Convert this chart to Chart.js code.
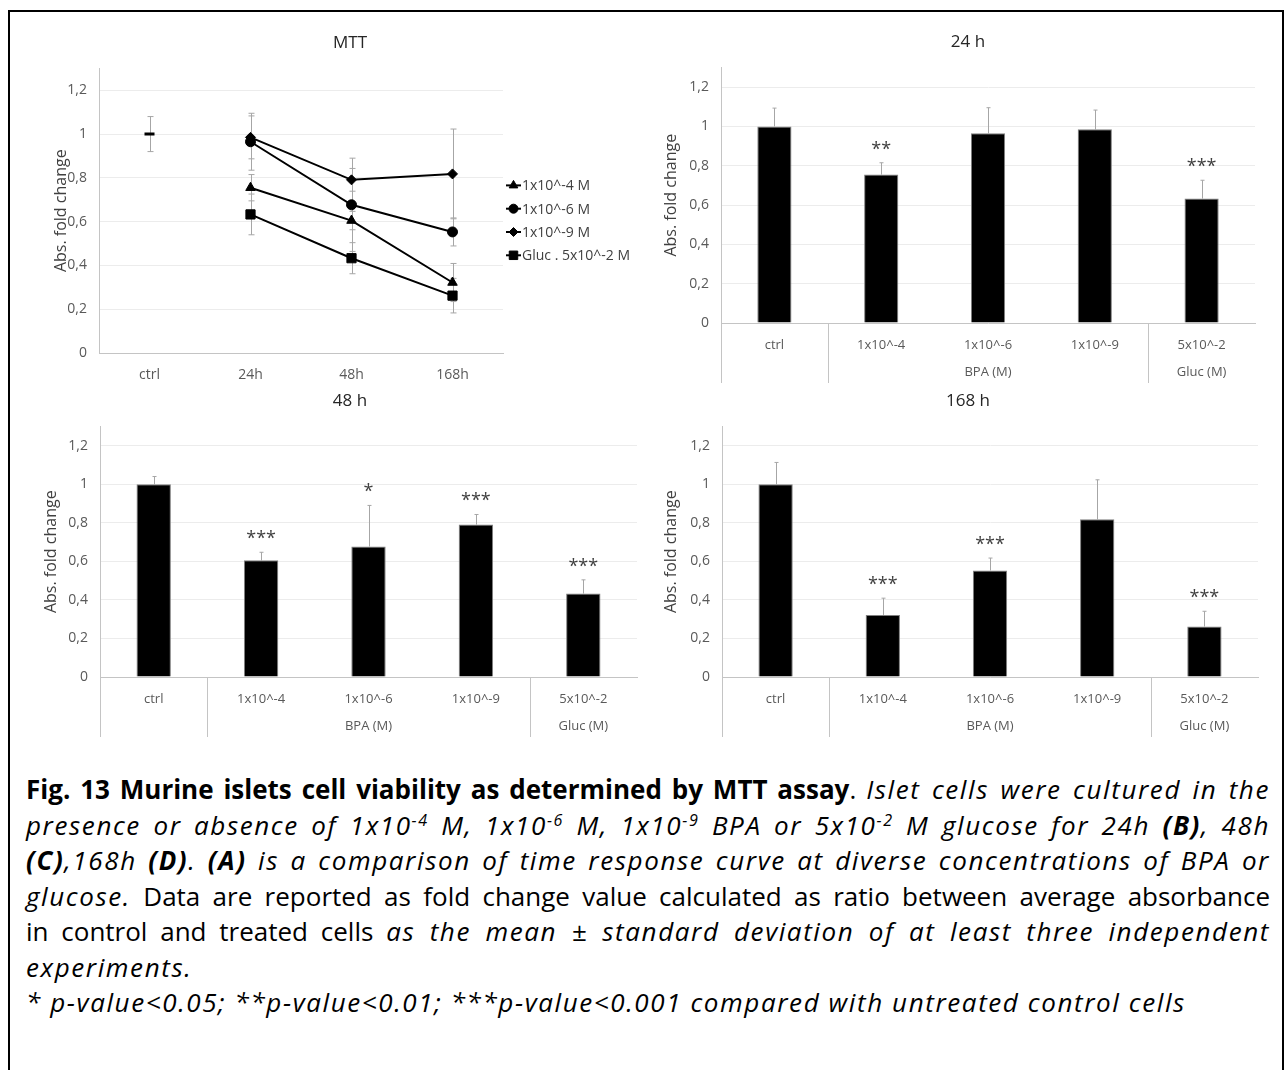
<!DOCTYPE html>
<html>
<head>
<meta charset="utf-8">
<script src="https://cdn.jsdelivr.net/npm/chart.js@4.4.1/dist/chart.umd.min.js"></script>
<style>
  body { margin: 0; width: 1285px; height: 1070px; overflow: hidden; background: #fff; position: relative; font-family: "Open Sans", sans-serif; }
  #frame { position: absolute; left: 8px; top: 10px; width: 1276px; height: 1100px; border: 2px solid #000; box-sizing: border-box; }
  canvas { position: absolute; }
  #caption { position: absolute; left: 26px; top: 772px; width: 1260px; font-size: 26px; line-height: 35.5px; color: #000; }
  #caption > div { white-space: nowrap; }
  #caption i { letter-spacing: 1.6px; }
  sup { font-size: 0.62em; line-height: 0; vertical-align: 0.55em; }
</style>
</head>
<body>
<div id="frame"></div>
<canvas id="chartA" width="640" height="370" style="left:30px;top:26px"></canvas>
<canvas id="chartB" width="626" height="370" style="left:655px;top:26px"></canvas>
<canvas id="chartC" width="640" height="365" style="left:30px;top:385px"></canvas>
<canvas id="chartD" width="626" height="365" style="left:655px;top:385px"></canvas>

<div id="caption">
  <div data-w="1244"><b>Fig. 13 Murine islets cell viability as determined by MTT assay</b>. <i>Islet cells were cultured in the</i></div>
  <div data-w="1244"><i>presence or absence of 1x10<sup>-4</sup> M, 1x10<sup>-6</sup> M, 1x10<sup>-9</sup> BPA or 5x10<sup>-2</sup> M glucose for 24h <b>(B)</b>, 48h</i></div>
  <div data-w="1244"><i><b>(C)</b>,168h <b>(D)</b>. <b>(A)</b> is a comparison of time response curve at diverse concentrations of BPA or</i></div>
  <div data-w="1244"><i>glucose.</i> Data are reported as fold change value calculated as ratio between average absorbance</div>
  <div data-w="1244">in control and treated cells <i>as the mean ± standard deviation of at least three independent</i></div>
  <div><i>experiments.</i></div>
  <div><i>* p-value&lt;0.05; **p-value&lt;0.01; ***p-value&lt;0.001 compared with untreated control cells</i></div>
</div>

<script>
// ==================== DATA ====================
const timeLabels = ['ctrl', '24h', '48h', '168h'];
const concLabels = ['ctrl', '1x10^-4', '1x10^-6', '1x10^-9', '5x10^-2'];
const groupNames = ['', 'BPA (M)', 'Gluc (M)'];
const groupFirst = [0, 1, 4];
const groupLast = [0, 3, 4];
const yTicks = [0, 0.2, 0.4, 0.6, 0.8, 1, 1.2];

const seriesNames = ['1x10^-4 M', '1x10^-6 M', '1x10^-9 M', 'Gluc . 5x10^-2 M'];

const mean24 = [1.0, 0.755, 0.965, 0.985, 0.633];
const sd24 = [0.093, 0.06, 0.13, 0.098, 0.093];
const stars24 = ['', '**', '', '', '***'];

const mean48 = [1.0, 0.605, 0.677, 0.791, 0.433];
const sd48 = [0.04, 0.042, 0.213, 0.052, 0.071];
const stars48 = ['', '***', '*', '***', '***'];

const mean168 = [1.0, 0.322, 0.553, 0.818, 0.262];
const sd168 = [0.113, 0.087, 0.064, 0.205, 0.079];
const stars168 = ['', '***', '***', '', '***'];

// ctrl point of the time-course panel
const ctrlMean = 1.0;
const ctrlSd = 0.08;

// ==================== STYLE ====================
const FONT = '"Open Sans", sans-serif';
const TICK_COLOR = '#595959';
const TITLE_COLOR = '#404040';
const GRID_COLOR = '#ececec';
const AXIS_COLOR = '#c4c4c4';
const ERR_COLOR = '#a6a6a6';
const MARKERS = ['triangle', 'circle', 'rectRot', 'rect'];
const MARKER_RADIUS = [5.5, 5, 5, 6.5];

Chart.defaults.font.family = FONT;
Chart.defaults.animation = false;

// ==================== PLUGINS ====================
const errorBars = {
    id: 'errorBars',
    beforeDatasetsDraw(chart) {
        const { ctx } = chart;
        const y = chart.scales.y;
        ctx.save();
        ctx.strokeStyle = ERR_COLOR;
        ctx.lineWidth = 1;
        chart.data.datasets.forEach((ds, i) => {
            if (!ds.errors) return;
            chart.getDatasetMeta(i).data.forEach((el, j) => {
                const v = ds.data[j], e = ds.errors[j];
                if (v == null || e == null) return;
                const both = ds.errMode === 'both';
                const x = Math.round(el.x) + 0.5;
                const top = y.getPixelForValue(v + e);
                const bot = y.getPixelForValue(both ? v - e : v);
                const cap = both ? 3 : 2;
                ctx.beginPath();
                ctx.moveTo(x, top); ctx.lineTo(x, bot);
                ctx.moveTo(x - cap, top); ctx.lineTo(x + cap, top);
                if (both) { ctx.moveTo(x - cap, bot); ctx.lineTo(x + cap, bot); }
                ctx.stroke();
            });
        });
        ctx.restore();
    }
};

const starLabels = {
    id: 'starLabels',
    afterDatasetsDraw(chart) {
        const { ctx } = chart;
        const y = chart.scales.y;
        ctx.save();
        ctx.fillStyle = TITLE_COLOR;
        ctx.font = '18px ' + FONT;
        ctx.textAlign = 'center';
        ctx.textBaseline = 'alphabetic';
        chart.data.datasets.forEach((ds, i) => {
            if (!ds.stars) return;
            chart.getDatasetMeta(i).data.forEach((el, j) => {
                if (!ds.stars[j]) return;
                const top = y.getPixelForValue(ds.data[j] + ds.errors[j]);
                ctx.fillText(ds.stars[j], el.x, top - 8);
            });
        });
        ctx.restore();
    }
};

// second row of category labels (BPA / Gluc) with separators, Excel style
const groupAxis = {
    id: 'groupAxis',
    afterDraw(chart) {
        const { ctx, chartArea: a } = chart;
        const x = chart.scales.x;
        const depth = 60;
        ctx.save();
        ctx.strokeStyle = AXIS_COLOR;
        ctx.lineWidth = 1;
        ctx.beginPath();
        const lx = Math.round(a.left) + 0.5;
        ctx.moveTo(lx, a.bottom); ctx.lineTo(lx, a.bottom + depth);
        for (let g = 0; g < groupFirst.length - 1; g++) {
            const bx = Math.round((x.getPixelForValue(groupLast[g]) + x.getPixelForValue(groupFirst[g + 1])) / 2) + 0.5;
            ctx.moveTo(bx, a.bottom); ctx.lineTo(bx, a.bottom + depth);
        }
        ctx.stroke();
        ctx.fillStyle = TICK_COLOR;
        ctx.font = '13px ' + FONT;
        ctx.textAlign = 'center';
        ctx.textBaseline = 'middle';
        groupNames.forEach((name, g) => {
            if (!name) return;
            const cx = (x.getPixelForValue(groupFirst[g]) + x.getPixelForValue(groupLast[g])) / 2;
            ctx.fillText(name, cx, a.bottom + 49);
        });
        ctx.restore();
    }
};

const sideLegend = {
    id: 'sideLegend',
    afterDraw(chart) {
        const { ctx, chartArea: a } = chart;
        ctx.save();
        ctx.font = '14px ' + FONT;
        ctx.textBaseline = 'middle';
        ctx.textAlign = 'left';
        seriesNames.forEach((name, i) => {
            const yy = a.top + 117 + i * 23.3;
            const x0 = a.right + 3;
            ctx.strokeStyle = '#000';
            ctx.lineWidth = 2;
            ctx.beginPath(); ctx.moveTo(x0, yy); ctx.lineTo(x0 + 15, yy); ctx.stroke();
            ctx.fillStyle = '#000';
            ctx.lineWidth = 1;
            Chart.helpers.drawPoint(ctx, { pointStyle: MARKERS[i], radius: MARKER_RADIUS[i] - 0.5, rotation: 0, borderWidth: 1 }, x0 + 7.5, yy);
            ctx.fillStyle = TITLE_COLOR;
            ctx.fillText(name, x0 + 16, yy + 1);
        });
        ctx.restore();
    }
};

// ==================== AXES ====================
function yAxis(width, titlePad) {
    return {
        min: 0, max: 1.3,
        afterBuildTicks: s => { s.ticks = yTicks.map(v => ({ value: v })); },
        afterFit: s => { s.width = width; },
        ticks: { color: TICK_COLOR, font: { size: 14 }, padding: 12, callback: v => String(v).replace('.', ',') },
        grid: { color: GRID_COLOR, drawTicks: false },
        border: { display: true, color: AXIS_COLOR },
        title: { display: true, text: 'Abs. fold change', color: TITLE_COLOR, font: { size: 16 }, padding: { top: titlePad, bottom: 0 } }
    };
}

// empty right-hand axis: keeps room on the right without shifting the title
function spacerAxis(width) {
    return {
        position: 'right',
        display: true,
        afterFit: s => { s.width = width; },
        ticks: { display: false },
        grid: { display: false, drawTicks: false },
        border: { display: false }
    };
}

function xAxis(height, size) {
    return {
        offset: true,
        afterFit: s => { s.height = height; },
        grid: { display: false, drawTicks: false },
        border: { display: true, color: AXIS_COLOR },
        ticks: { color: TICK_COLOR, font: { size: size }, padding: 14, maxRotation: 0, autoSkip: false }
    };
}

function titleOpts(text, top) {
    return { display: true, text: text, color: '#262626', font: { size: 17, weight: 'normal' }, padding: { top: top, bottom: 15 } };
}

// ==================== PANEL A ====================
function initLinePanel() {
    const byTime = [mean24, mean48, mean168];
    const sdByTime = [sd24, sd48, sd168];
    const datasets = seriesNames.map((name, i) => ({
        label: name,
        data: [null].concat(byTime.map(m => m[i + 1])),
        errors: [null].concat(sdByTime.map(s => s[i + 1])),
        errMode: 'both',
        borderColor: '#000',
        backgroundColor: '#000',
        borderWidth: 2,
        pointStyle: MARKERS[i],
        pointRadius: MARKER_RADIUS[i],
        pointBorderWidth: 1
    }));
    datasets.push({
        label: 'ctrl',
        data: [ctrlMean, null, null, null],
        errors: [ctrlSd, null, null, null],
        errMode: 'both',
        borderColor: '#000',
        showLine: false,
        pointStyle: 'line',
        pointRadius: 5,
        pointBorderWidth: 3
    });

    new Chart(document.getElementById('chartA'), {
        type: 'line',
        data: { labels: timeLabels, datasets: datasets },
        options: {
            responsive: false,
            plugins: { legend: { display: false }, tooltip: { enabled: false }, title: titleOpts('MTT', 7) },
            scales: { x: xAxis(43, 14), y: yAxis(69, 22), yr: spacerAxis(167) }
        },
        plugins: [errorBars, sideLegend]
    });
}

// ==================== BAR PANELS ====================
function initBarPanel(id, title, means, sds, stars, yWidth, titlePad, padRight) {
    new Chart(document.getElementById(id), {
        type: 'bar',
        data: {
            labels: concLabels,
            datasets: [{
                data: means,
                errors: sds,
                errMode: 'plus',
                stars: stars,
                backgroundColor: '#000',
                borderColor: '#7f7f7f',
                borderWidth: 1,
                barPercentage: 0.32,
                categoryPercentage: 1
            }]
        },
        options: {
            responsive: false,
            plugins: { legend: { display: false }, tooltip: { enabled: false }, title: titleOpts(title, 6) },
            scales: { x: xAxis(73, 13), y: yAxis(yWidth, titlePad), yr: spacerAxis(padRight) }
        },
        plugins: [errorBars, starLabels, groupAxis]
    });
}

// ==================== CAPTION ====================
// stretch the justified caption lines to their width through word spacing
function fitCaption() {
    document.querySelectorAll('#caption > div[data-w]').forEach(div => {
        div.style.wordSpacing = '0px';
        div.style.display = 'inline-block';
        const w = div.getBoundingClientRect().width;
        div.style.display = 'block';
        const spaces = (div.textContent.trim().match(/ /g) || []).length;
        if (spaces) div.style.wordSpacing = ((+div.dataset.w - w) / spaces) + 'px';
    });
}

// ==================== START ====================
initLinePanel();
initBarPanel('chartB', '24 h', mean24, sd24, stars24, 66, 7, 26);
initBarPanel('chartC', '48 h', mean48, sd48, stars48, 70, 12, 33);
initBarPanel('chartD', '168 h', mean168, sd168, stars168, 67, 7, 23);
fitCaption();
document.fonts.ready.then(fitCaption);
</script>
</body>
</html>
